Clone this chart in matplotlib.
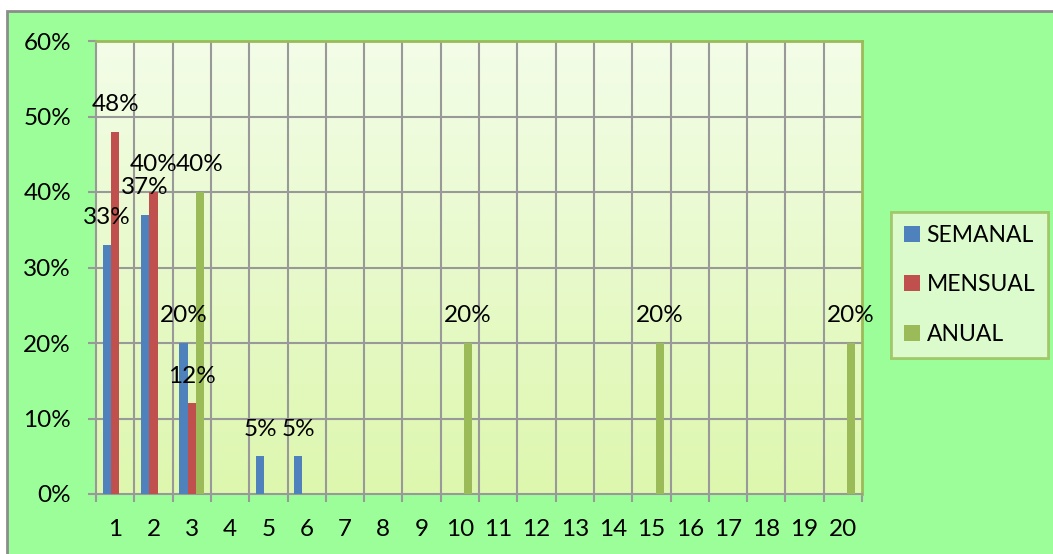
import numpy as np
import matplotlib
matplotlib.use("Agg")
import matplotlib.pyplot as plt
from matplotlib.patches import Rectangle
from matplotlib.colors import LinearSegmentedColormap

plt.rcParams['font.family'] = ['Lato', 'DejaVu Sans']

# Frequency categories and percentage per series
categories = list(range(1, 21))
semanal = [33, 37, 20, 0, 5, 5, 0, 0, 0, 0, 0, 0, 0, 0, 0, 0, 0, 0, 0, 0]
mensual = [48, 40, 12, 0, 0, 0, 0, 0, 0, 0, 0, 0, 0, 0, 0, 0, 0, 0, 0, 0]
anual = [0, 0, 40, 0, 0, 0, 0, 0, 0, 20, 0, 0, 0, 0, 20, 0, 0, 0, 0, 20]
series_names = ["SEMANAL", "MENSUAL", "ANUAL"]
yticks = [0, 10, 20, 30, 40, 50, 60]

colors = ["#4F81BD", "#C0504D", "#9BBB59"]
FS = 17.5
W, H = 1053, 554
fig = plt.figure(figsize=(W / 100, H / 100), dpi=100)
fig.patch.set_facecolor("white")

# Outer chart frame
fig.patches.append(Rectangle((7 / W, -0.01), 1, 1.01 - 11 / H, transform=fig.transFigure,
                             facecolor="#9CFE99", edgecolor="#8C8C8C", linewidth=2, zorder=-5))

ax = fig.add_axes([96 / W, 1 - 494 / H, (862 - 96) / W, (494 - 41) / H])

# Gradient plot area
grad = LinearSegmentedColormap.from_list("pa", ["#DDF7AE", "#F3FDE8"])
ax.imshow(np.linspace(0, 1, 256).reshape(-1, 1), cmap=grad, aspect="auto",
          extent=(0.5, 20.5, 0, 60), origin="lower", zorder=0)

x = np.array(categories, dtype=float)
bw = 0.217
data = [semanal, mensual, anual]
for i, (vals, c) in enumerate(zip(data, colors)):
    pos = x + (i - 1) * bw
    ax.bar(pos, vals, width=bw, color=c, zorder=3, label=series_names[i])
    for px, v in zip(pos, vals):
        if v > 0:
            ax.annotate(f"{v}%", xy=(px, v), xytext=(0, 19.5), textcoords="offset points",
                        ha="center", va="center", fontsize=FS, color="black", zorder=5)

ax.set_xlim(0.5, 20.5)
ax.set_ylim(0, 60)
ax.set_yticks(yticks)
ax.set_yticklabels([f"{t}%" for t in yticks])
ax.set_xticks(categories)
ax.set_xticklabels([str(c) for c in categories])
ax.set_xticks(np.arange(0.5, 21, 1), minor=True)

for yv in yticks[1:]:
    ax.axhline(yv, color="#999999", linewidth=1.5, zorder=1)
for xv in np.arange(1.5, 20.5, 1):
    ax.axvline(xv, color="#999999", linewidth=1.5, zorder=1)

ax.tick_params(axis="y", length=6, width=1.5, color="#999999", pad=12, labelsize=FS)
ax.tick_params(axis="x", which="major", length=0, pad=18, labelsize=FS)
ax.tick_params(axis="x", which="minor", length=6, width=1.5, color="#999999")

ax.spines["left"].set_color("#999999")
ax.spines["left"].set_linewidth(1.5)
ax.spines["bottom"].set_color("#999999")
ax.spines["bottom"].set_linewidth(1.5)
ax.spines["top"].set_color("#9BBB59")
ax.spines["top"].set_linewidth(2)
ax.spines["right"].set_color("#9BBB59")
ax.spines["right"].set_linewidth(2)

handles, labels = ax.get_legend_handles_labels()
leg = fig.legend(handles, labels, loc="center left",
                 bbox_to_anchor=(891 / W, 1 - 285 / H), fontsize=16.5,
                 frameon=True, fancybox=False, handlelength=0.7, handleheight=0.7,
                 handletextpad=0.3, labelspacing=1.25, borderpad=0.55, borderaxespad=0)
leg.get_frame().set_facecolor("#EDFBD9")
leg.get_frame().set_edgecolor("#9BBB59")
leg.get_frame().set_linewidth(2)

fig.savefig("out.png", dpi=100, facecolor=fig.get_facecolor())
